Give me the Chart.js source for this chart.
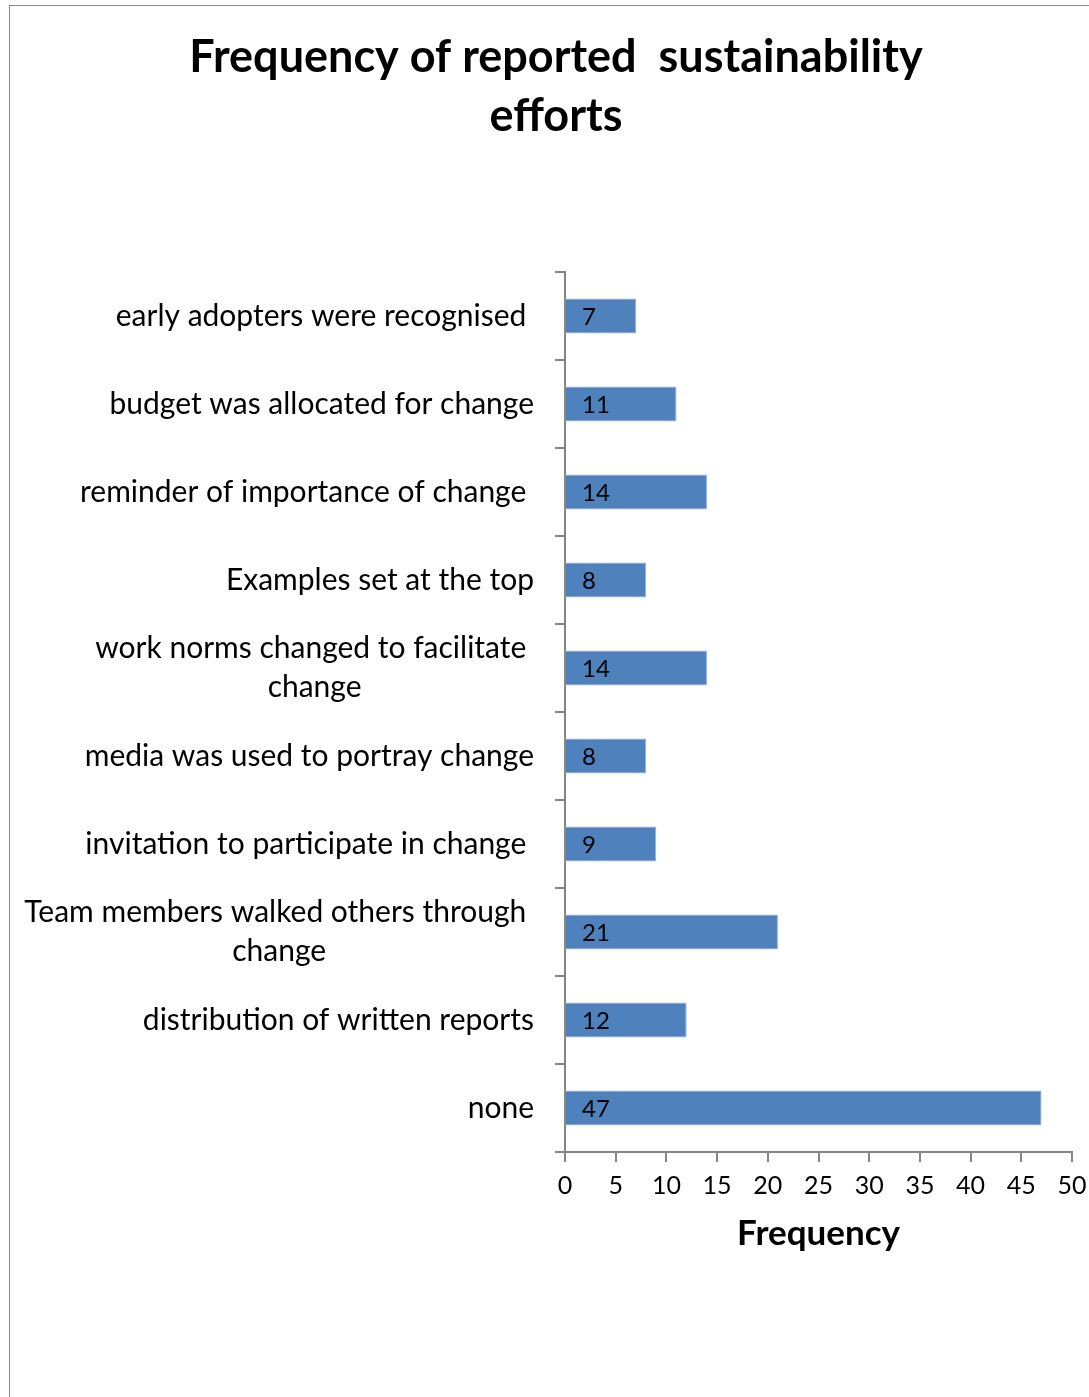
<!DOCTYPE html>
<html>
<head>
<meta charset="utf-8">
<script src="https://cdn.jsdelivr.net/npm/chart.js@4.4.1/dist/chart.umd.min.js"></script>
<style>
html, body { margin: 0; padding: 0; background: #fff; overflow: hidden; }
#moldura { position: absolute; left: 9px; top: 5px; width: 1200px; height: 1500px;
  border-left: 1.5px solid #8a8a8a; border-top: 1.5px solid #8a8a8a; }
#caixa { position: absolute; left: 0; top: 0; width: 1089px; height: 1397px; }
</style>
</head>
<body>
<div id="moldura"></div>
<div id="caixa"><canvas id="graficoBarras" width="1089" height="1397"></canvas></div>
<script>
// dados do gráfico
const categorias = [
    ['early adopters were recognised '],
    ['budget was allocated for change'],
    ['reminder of importance of change '],
    ['Examples set at the top'],
    ['work norms changed to facilitate ', 'change'],
    ['media was used to portray change'],
    ['invitation to participate in change '],
    ['Team members walked others through ', 'change'],
    ['distribution of written reports'],
    ['none']
];
const frequencias = [7, 11, 14, 8, 14, 8, 9, 21, 12, 47];
const tituloLinhas = ['Frequency of reported  sustainability', 'efforts'];
const tituloEixoX = 'Frequency';
const eixoXMin = 0;
const eixoXMax = 50;
const eixoXPasso = 5;

const fonte = 'Lato';
const cinza = '#868686';

// rótulos das categorias, título e valores dentro das barras
const rotulosPlugin = {
    id: 'rotulos',
    afterDraw(chart) {
        const ctx = chart.ctx;
        const escalaY = chart.scales.y;
        const area = chart.chartArea;
        ctx.save();
        ctx.fillStyle = '#000';
        ctx.textBaseline = 'middle';
        ctx.textAlign = 'center';

        ctx.font = 'bold 45px ' + fonte;
        tituloLinhas.forEach((linha, i) => ctx.fillText(linha, 556, 57 + i * 59));

        ctx.font = '30px ' + fonte;
        categorias.forEach((linhas, i) => {
            const cy = escalaY.getPixelForValue(i);
            const larg = Math.max(...linhas.map(l => ctx.measureText(l).width));
            const cx = area.left - 31 - larg / 2;
            linhas.forEach((l, j) => ctx.fillText(l, cx, cy + (j - (linhas.length - 1) / 2) * 39));
        });

        ctx.font = '24px ' + fonte;
        ctx.textAlign = 'left';
        chart.getDatasetMeta(0).data.forEach((barra, i) => {
            ctx.fillText(String(frequencias[i]), barra.base + 16, barra.y + 1);
        });
        ctx.restore();
    }
};

const ctxBar = document.getElementById('graficoBarras').getContext('2d');
new Chart(ctxBar, {
    type: 'bar',
    data: {
        labels: categorias.map(c => c.join(' ')),
        datasets: [{
            data: frequencias,
            backgroundColor: '#4F81BD',
            borderColor: '#8fb0d8',
            borderWidth: 1,
            barPercentage: 0.4,
            categoryPercentage: 1
        }]
    },
    options: {
        indexAxis: 'y',
        responsive: false,
        animation: false,
        layout: { padding: { left: 0, right: 17, top: 272, bottom: 142 } },
        plugins: {
            legend: { display: false },
            tooltip: { enabled: false },
            title: { display: false }
        },
        scales: {
            x: {
                min: eixoXMin,
                max: eixoXMax,
                ticks: { stepSize: eixoXPasso, color: '#000', font: { family: fonte, size: 25 }, padding: 9 },
                grid: { drawOnChartArea: false, tickLength: 10, color: cinza, lineWidth: 2 },
                border: { color: cinza, width: 2 },
                title: {
                    display: true, text: tituloEixoX, color: '#000',
                    font: { family: fonte, size: 35, weight: 'bold' }, padding: 0
                },
                afterFit(s) { s.height = 103; s.paddingLeft = 0; s.paddingRight = 17; }
            },
            y: {
                ticks: { display: false },
                grid: { drawOnChartArea: false, tickLength: 10, color: cinza, lineWidth: 2, offset: true },
                border: { color: cinza, width: 2 },
                afterFit(s) { s.width = 565; }
            }
        }
    },
    plugins: [rotulosPlugin]
});
</script>
</body>
</html>
